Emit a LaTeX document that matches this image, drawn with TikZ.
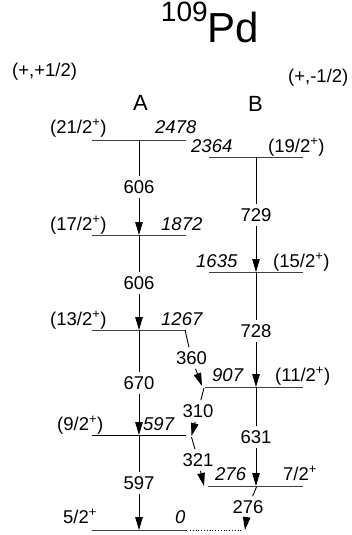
\documentclass[tikz,border=0pt]{standalone}
\usepackage{fontspec}
\setmainfont{Liberation Sans}
\usepackage{tikz}
\usetikzlibrary{arrows.meta}
\definecolor{lvl}{HTML}{404040}
\tikzset{
  level/.style={line width=0.9pt, draw=lvl, dash pattern=on 1.5pt off 0.5pt},
  gslevel/.style={line width=0.9pt, draw=black},
  gam/.style={line width=0.9pt, -{Triangle[length=13pt,width=7.5pt]}},
  gline/.style={line width=0.9pt},
  glab/.style={font=\fontsize{18.5}{20}\selectfont, inner sep=4pt},
  spin/.style={font=\fontsize{18.5}{20}\selectfont, anchor=base west, inner sep=0pt},
  elab/.style={font=\fontsize{18.5}{20}\selectfont\itshape, anchor=base west, inner sep=0pt},
  band/.style={font=\fontsize{22}{24}\selectfont, anchor=base west, inner sep=0pt},
}

\begin{document}
\begin{tikzpicture}[x=1pt,y=-1pt]
  \useasboundingbox (0,0) rectangle (352,535);

  % title and signature labels
  \node[anchor=base, inner sep=0pt, font=\fontsize{42}{46}\selectfont] (title) at (210,43)
    {{\fontsize{28}{31}\selectfont\raisebox{21pt}{109}}Pd};
  \node[spin] (sigA) at (12,77) {(+,+1/2)};
  \node[spin] (sigB) at (288,82) {(+,-1/2)};
  \node[band] (bandA) at (133,110) {A};
  \node[band] (bandB) at (248,111) {B};

  % band A levels
  \coordinate (a2478) at (139,140);  % 21/2
  \coordinate (a1872) at (139,235);  % 17/2
  \coordinate (a1267) at (139,330);  % 13/2
  \coordinate (a597)  at (139,435);  % 9/2
  \coordinate (a0)    at (139,530);  % ground state

  \draw[level] (92,140) -- (186,140);
  \draw[level] (92,235) -- (186,235);
  \draw[level] (92,330) -- (186,330);
  \draw[gslevel] (92,435) -- (186,435);
  \draw[level] (92,530) -- (187,530);
  \draw[line width=0.8pt, dotted] (190,530) -- (243,530);

  % band B levels
  \coordinate (b2364) at (256,157);  % 19/2
  \coordinate (b1635) at (256,272);  % 15/2
  \coordinate (b907)  at (256,387);  % 11/2
  \coordinate (b276)  at (256,486);  % 7/2

  \draw[level] (209,157) -- (303,157);
  \draw[level] (209,272) -- (303,272);
  \draw[level] (205,387) -- (303,387);
  \draw[level] (208,486) -- (303,486);

  % level labels
  \node[spin] (s2478) at (50,133) {(21/2\textsuperscript{+})};
  \node[elab] (e2478) at (155,133) {2478};
  \node[spin] (s1872) at (50,230) {(17/2\textsuperscript{+})};
  \node[elab] (e1872) at (161,230) {1872};
  \node[spin] (s1267) at (50,325) {(13/2\textsuperscript{+})};
  \node[elab] (e1267) at (161,325) {1267};
  \node[spin] (s597) at (57,430) {(9/2\textsuperscript{+})};
  \node[elab] (e597) at (143,430) {597};
  \node[spin] (s0) at (63,523) {5/2\textsuperscript{+}};
  \node[elab] (e0) at (175,523) {0};

  \node[elab] (e2364) at (191,152) {2364};
  \node[spin] (s2364) at (268,152) {(19/2\textsuperscript{+})};
  \node[elab] (e1635) at (196,267) {1635};
  \node[spin] (s1635) at (273,267) {(15/2\textsuperscript{+})};
  \node[elab] (e907) at (212,381) {907};
  \node[spin] (s907) at (275,381) {(11/2\textsuperscript{+})};
  \node[elab] (e276) at (215,480) {276};
  \node[spin] (s276) at (283,480) {7/2\textsuperscript{+}};

  % in-band transitions
  \node[glab] (g606a) at (139,187) {606};
  \node[glab] (g606b) at (139,283) {606};
  \node[glab] (g670)  at (139,383) {670};
  \node[glab] (g597)  at (139,483) {597};
  \node[glab] (g729)  at (256,215) {729};
  \node[glab] (g728)  at (256,331) {728};
  \node[glab] (g631)  at (256,437) {631};

  \draw[gline] (a2478) -- (g606a);  \draw[gam] (g606a) -- (a1872);
  \draw[gline] (a1872) -- (g606b);  \draw[gam] (g606b) -- (a1267);
  \draw[gline] (a1267) -- (g670);   \draw[gam] (g670) -- (a597);
  \draw[gline] (a597) -- (g597);    \draw[gam] (g597) -- (a0);
  \draw[gline] (b2364) -- (g729);   \draw[gam] (g729) -- (b1635);
  \draw[gline] (b1635) -- (g728);   \draw[gam] (g728) -- (b907);
  \draw[gline] (b907) -- (g631);    \draw[gam] (g631) -- (b276);

  % interband transitions
  \coordinate (c360s) at (185,330);  \coordinate (c360e) at (202,386);
  \coordinate (c310s) at (204,388);  \coordinate (c310e) at (191.5,436);
  \coordinate (c321s) at (191.5,437); \coordinate (c321e) at (204,486);
  \coordinate (c276s) at (256.5,487); \coordinate (c276e) at (245,530);

  \node[glab] (g360) at (191.5,358) {360};
  \node[glab] (g310) at (198,411) {310};
  \node[glab] (g321) at (198,460) {321};
  \node[glab] (g276) at (248,507) {276};

  \draw[gline] (c360s) -- (g360);  \draw[gam] (g360) -- (c360e);
  \draw[gline] (c310s) -- (g310);  \draw[gam] (g310) -- (c310e);
  \draw[gline] (c321s) -- (g321);  \draw[gam] (g321) -- (c321e);
  \draw[gline] (c276s) -- (g276);  \draw[gam] (g276) -- (c276e);
\end{tikzpicture}
\end{document}
